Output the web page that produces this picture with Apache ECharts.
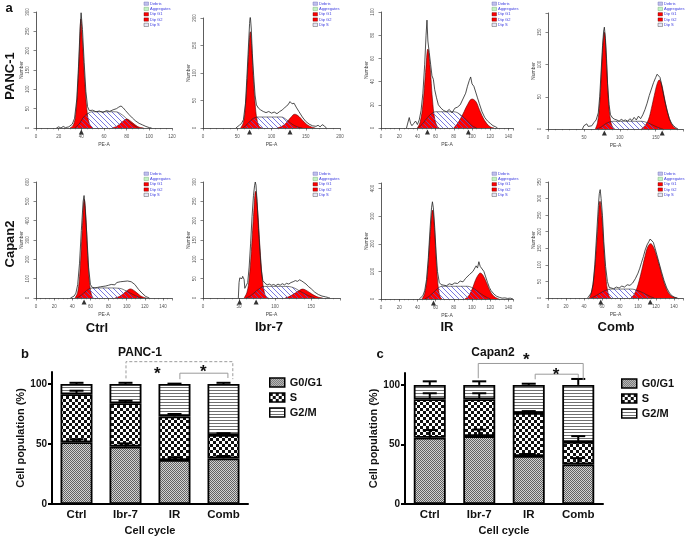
<!DOCTYPE html>
<html><head><meta charset="utf-8">
<script src="https://cdn.jsdelivr.net/npm/echarts@6/dist/echarts.min.js"></script>
<style>html,body{margin:0;padding:0;background:#fff}#c{width:685px;height:537px}</style>
</head><body><div id="c"></div>
<script>
// ================= DATA =================
// Flow-cytometry histograms: [PE-A, Number]
// PANC-1 Ctrl
const p1G1 = [[30,0],[33,8],[35,35],[37,115],[38.5,210],[39.6,282],[41,225],[43,120],[45,45],[47,12],[50,0]];
const p1S  = [[34,0],[38,10],[42,28],[46,38],[50,42],[60,42],[70,42],[75,36],[80,24],[85,10],[90,0]];
const p1G2 = [[67,0],[71,4],[75,13],[78,20],[80,23],[82,21],[85,14],[88,7],[91,2],[95,0]];
const p1Total = [[18,0],[20,3],[22,0],[24,4],[26,1],[29,3],[32,10],[34,25],[36,75],[37.5,160],[38.8,250],[39.8,298],[41,255],[42.5,170],[44,95],[45.5,55],[47,45],[50,46],[53,42],[56,44],[59,40],[62,45],[65,43],[68,47],[71,50],[73,54],[75,57],[77,52],[79,45],[82,35],[85,26],[88,18],[91,12],[94,8],[97,4],[100,1],[102,0]];
const p1Tri = [40];
// PANC-1 Ibr-7
const p2G1 = [[55,0],[59,10],[62,40],[65,100],[67.5,155],[69,175],[71,150],[73,100],[76,45],[79,14],[82,3],[86,0]];
const p2S  = [[58,0],[64,6],[70,14],[76,19],[82,20],[100,20],[114,20],[122,15],[130,7],[138,2],[145,0]];
const p2G2 = [[108,0],[115,3],[122,10],[128,19],[134,25],[140,21],[146,13],[152,6],[158,2],[164,0]];
const p2Total = [[48,0],[50,3],[53,5],[56,8],[59,15],[62,45],[64,90],[66,140],[68,190],[69,205],[70.5,180],[72,135],[74,95],[76,60],[78,42],[81,36],[84,33],[88,30],[92,28],[96,30],[100,27],[104,29],[108,26],[112,30],[116,33],[120,38],[124,42],[127,48],[130,44],[133,45],[136,38],[140,30],[145,20],[150,12],[155,7],[160,4],[165,3],[168,5],[171,2],[174,6],[177,4],[180,0]];
const p2Tri = [68,127];
// PANC-1 IR
const p3G1 = [[40,0],[43,5],[46,20],[49,48],[51.5,68],[54,52],[56.5,25],[59,8],[62,1],[64,0]];
const p3S  = [[40,0],[45,3],[50,8],[55,12],[60,14],[70,14],[80,14],[88,11],[95,6],[100,2],[105,0]];
const p3G2 = [[80,0],[85,5],[90,12],[95,20],[100,25],[104,23],[108,16],[112,9],[116,4],[120,1],[124,0]];
const p3Total = [[28,0],[30,6],[31,9],[32.5,4],[34,2],[36,4],[38,6],[40,3],[42,7],[44,15],[46,30],[48,55],[49.5,80],[50.5,93],[51.5,75],[53,65],[54.5,55],[56,45],[57.5,42],[59,33],[61,26],[63,20],[66,17],[69,15],[72,14],[75,16],[78,13],[81,17],[84,18],[87,20],[90,25],[93,30],[95,36],[97,41],[98.5,44],[100,38],[102,36],[104,31],[106,26],[108,21],[111,14],[114,9],[117,6],[120,4],[123,2],[126,1],[128,0]];
const p3Tri = [51,96];
// PANC-1 Comb
const p4G1 = [[66,0],[69,10],[72,40],[75,100],[77,138],[78.5,150],[80,135],[82,90],[84.5,40],[87,14],[90,3],[93,0]];
const p4S  = [[68,0],[74,3],[80,8],[86,11],[92,12],[110,12],[130,12],[138,10],[146,6],[154,2],[160,0]];
const p4G2 = [[130,0],[135,5],[140,15],[144,32],[148,52],[152,70],[155,76],[158,70],[161,55],[164,38],[168,20],[172,8],[176,2],[180,0]];
const p4Total = [[48,0],[50,5],[52,3],[54,8],[56,4],[58,2],[61,5],[64,10],[67,14],[70,25],[72,50],[74,90],[76,130],[77.5,152],[78.5,158],[80,140],[81.5,110],[83,70],[85,38],[87,22],[90,17],[93,15],[96,14],[99,12],[102,15],[105,13],[108,14],[111,12],[114,16],[117,13],[120,18],[123,14],[126,20],[129,16],[132,22],[135,30],[138,40],[141,52],[144,62],[147,72],[150,80],[152,85],[154,86],[156,80],[158,70],[160,58],[163,42],[166,28],[169,16],[172,9],[175,5],[178,2],[181,0]];
const p4Tri = [78.5,159];
// Capan2 Ctrl
const p5G1 = [[43,0],[46,30],[48.5,140],[51,350],[53.3,510],[55,420],[57,220],[59,80],[61,20],[63,0]];
const p5S  = [[45,0],[50,15],[55,35],[60,50],[65,52],[80,52],[92,50],[100,35],[107,18],[113,5],[117,0]];
const p5G2 = [[87,0],[92,8],[97,25],[101,40],[104,47],[107,42],[111,28],[115,12],[119,3],[122,0]];
const p5Total = [[38,0],[40,5],[42,10],[44,25],[46,70],[48,180],[50,350],[52,500],[53,530],[54,480],[56,330],[58,160],[60,70],[62,55],[65,52],[68,55],[71,58],[74,60],[77,62],[80,66],[83,70],[85,75],[87,68],[89,80],[91,75],[93,84],[95,78],[97,86],[99,82],[101,88],[103,80],[105,84],[107,78],[109,70],[111,60],[113,45],[115,35],[117,25],[119,15],[121,8],[123,3],[125,0]];
const p5Tri = [53];
// Capan2 Ibr-7
const p6G1 = [[57,0],[61,15],[64,50],[67,120],[70,210],[73,276],[76,220],[79,130],[82,55],[85,15],[88,2],[91,0]];
const p6S  = [[60,0],[66,6],[72,15],[78,24],[85,30],[100,30],[115,30],[125,27],[135,17],[145,7],[155,0]];
const p6G2 = [[114,0],[121,5],[128,13],[134,20],[138,23],[142,21],[148,14],[154,7],[160,2],[166,0]];
const p6Total = [[49,0],[50,40],[51,52],[52,48],[53,55],[54,50],[55,56],[56,52],[57,48],[58,25],[60,20],[62,40],[64,80],[66,140],[68,210],[70,265],[71.5,290],[72.5,300],[73.5,292],[75,250],[77,180],[79,120],[81,70],[83,45],[86,38],[89,34],[92,36],[95,33],[98,35],[101,32],[104,36],[107,33],[110,37],[113,34],[116,38],[119,36],[122,40],[125,42],[128,45],[131,43],[134,47],[137,44],[140,40],[143,36],[146,30],[150,24],[155,15],[160,9],[165,5],[170,3],[174,1],[176,0]];
const p6Tri = [50.7,73.7];
// Capan2 IR
const p7G1 = [[45,0],[48,20],[51,90],[54,230],[56.7,322],[59,240],[61,120],[63,40],[65,8],[67,0]];
const p7S  = [[48,0],[53,10],[58,25],[63,40],[67,46],[80,46],[95,46],[103,35],[110,18],[116,6],[120,0]];
const p7G2 = [[92,0],[96,10],[100,35],[104,70],[107,88],[109,94],[112,86],[116,58],[120,28],[124,10],[128,2],[130,0]];
const p7Total = [[42,0],[44,5],[46,12],[48,30],[50,70],[52,150],[54,260],[55.5,330],[56.5,352],[57.5,330],[59,260],[60.5,170],[62,100],[64,60],[66,52],[69,50],[72,48],[75,55],[78,52],[81,58],[84,56],[87,65],[90,62],[93,75],[95,70],[97,88],[99,85],[101,100],[103,105],[104.5,120],[106,112],[107.5,135],[109,118],[111,120],[113,100],[115,80],[117,60],[119,42],[121,30],[124,18],[127,10],[130,6],[133,3],[136,4],[139,2],[142,3],[145,0]];
const p7Tri = [57.7];
// Capan2 Comb
const p8G1 = [[46,0],[49,25],[52,90],[55,200],[57.8,292],[60,240],[62,150],[64,75],[66,25],[68,5],[70,0]];
const p8S  = [[48,0],[54,8],[60,18],[66,25],[70,27],[80,27],[92,27],[100,22],[108,12],[114,4],[118,0]];
const p8G2 = [[92,0],[96,12],[100,40],[104,82],[108,128],[111,155],[114,164],[117,155],[120,132],[124,95],[128,55],[132,25],[136,8],[140,2],[143,0]];
const p8Total = [[44,0],[46,5],[48,15],[50,40],[52,100],[54,190],[56,280],[57,315],[58,327],[59,300],[60.5,250],[62,170],[64,95],[66,50],[68,32],[70,30],[73,28],[76,33],[79,30],[82,36],[85,33],[88,40],[91,38],[94,45],[97,58],[100,75],[102,90],[104,108],[106,125],[108,145],[110,160],[112,170],[113.5,178],[115,172],[117,168],[119,150],[121,130],[123,110],[126,80],[129,52],[132,30],[135,15],[138,6],[141,2],[144,0]];
const p8Tri = [58.6,113.6];

// histogram axis ranges / ticks
const histXMax  = [120,200,145,188,150,190,145,150];
const histXStep = [20,50,20,50,20,50,20,20];
const histYMax  = [300,200,100,180,600,300,420,350];
const histYStep = [50,50,20,50,100,50,100,50];
const histLegendNames = ['Debris','Aggregates','Dip G1','Dip G2','Dip S'];

// Stacked bar charts (cell population %)
const categories = ['Ctrl','Ibr-7','IR','Comb'];
const phaseNames = ['G0/G1','S','G2/M'];
const panc1G1 = [51.5, 47.8, 36.7, 38.0];
const panc1S  = [39.9, 36.2, 36.3, 19.5];
const panc1G2 = [8.6, 16.0, 27.0, 42.5];
const panc1G1Err = [2.5, 2.7, 2.3, 2.0];
const panc1SErr  = [3.0, 2.0, 2.0, 1.5];
const panc1G2Err = [1.0, 1.0, 0.3, 1.0];
const capan2G1 = [55.6, 57.0, 40.3, 33.3];
const capan2S  = [32.4, 31.0, 36.1, 18.7];
const capan2G2 = [12.0, 12.0, 23.6, 48.0];
const capan2G1Err = [6.5, 5.5, 1.7, 5.2];
const capan2SErr  = [5.0, 5.0, 1.6, 5.0];
const capan2G2Err = [3.0, 3.0, 1.0, 5.0];
const barYTicks = [0, 50, 100];
// significance brackets: [fromCat, toCat, topY, leftEndY, rightEndY] (category positions)
const panc1Brackets = [[1.01, 3.19, 118.6, 104.7, 104], [2.11, 3.09, 109, 104, 105]];
const panc1Stars = [[1.65, 111.7], [2.59, 113]];
const capan2Brackets = [[0.98, 3.10, 118, 105.6, 104], [2.13, 3.0, 109, 104.7, 105.6]];
const capan2Stars = [[1.95, 123.6], [2.55, 111]];

// ================= LAYOUT / STYLE =================
const FONT = 'Liberation Sans, Arial, Helvetica, sans-serif';
const histGrids = [
  [36,12,136,116],[203,18,137,110],[381,12,132,116],[548,13,135,116],
  [36,182,136,116],[203,182,137,116],[381,183,132,116],[548,182,135,116]
];
const histLegendPos = [[144,2],[313,2],[492,2],[658,2],[144,172],[313,172],[492,172],[658,172]];

function mkCanvas(w,h,draw){const c=document.createElement('canvas');c.width=w;c.height=h;const g=c.getContext('2d');draw(g);return c;}
const hatch = mkCanvas(5,5,g=>{g.strokeStyle='#5656d6';g.lineWidth=0.8;g.beginPath();
  g.moveTo(-1,-1);g.lineTo(6,6);g.moveTo(-1,4);g.lineTo(1,6);g.moveTo(4,-1);g.lineTo(6,1);g.stroke();});
const patG1 = mkCanvas(2,2,g=>{g.fillStyle='#d2d2d2';g.fillRect(0,0,2,2);g.fillStyle='#626262';g.fillRect(0,0,1,1);g.fillRect(1,1,1,1);});
const patS = mkCanvas(6,6,g=>{g.fillStyle='#fff';g.fillRect(0,0,6,6);g.fillStyle='#111';g.fillRect(0,0,3,3);g.fillRect(3,3,3,3);});
const patG2 = mkCanvas(3,3,g=>{g.fillStyle='#fff';g.fillRect(0,0,3,3);g.fillStyle='#707070';g.fillRect(0,0,3,1);});
const pat = c => ({image:c, repeat:'repeat'});

const hist = [
  [p1G1,p1S,p1G2,p1Total,p1Tri],[p2G1,p2S,p2G2,p2Total,p2Tri],[p3G1,p3S,p3G2,p3Total,p3Tri],[p4G1,p4S,p4G2,p4Total,p4Tri],
  [p5G1,p5S,p5G2,p5Total,p5Tri],[p6G1,p6S,p6G2,p6Total,p6Tri],[p7G1,p7S,p7G2,p7Total,p7Tri],[p8G1,p8S,p8G2,p8Total,p8Tri]
];

const grid=[], xAxis=[], yAxis=[], series=[], graphic=[];
function multiples(max, step){const a=[];for(let v=0;v<=max+1e-9;v+=step)a.push(v);return a;}

hist.forEach((h,i)=>{
  const [l,t,w,hh]=histGrids[i];
  grid.push({left:l, top:t, width:w, height:hh});
  xAxis.push({type:'value', gridIndex:i, min:0, max:histXMax[i], interval:histXStep[i],
    axisLine:{show:true, onZero:false, lineStyle:{color:'#333', width:0.8}},
    axisTick:{show:true, length:2.5, lineStyle:{color:'#333', width:0.6}},
    minorTick:{show:true, splitNumber: histXStep[i]===20?4:5, length:1.3, lineStyle:{color:'#444', width:0.5}},
    axisLabel:{fontSize:4.5, color:'#555', margin:6, fontFamily:FONT, customValues:multiples(histXMax[i],histXStep[i])},
    splitLine:{show:false},
    name:'PE-A', nameLocation:'middle', nameGap:14, nameTextStyle:{fontSize:5, color:'#444', fontFamily:FONT}});
  yAxis.push({type:'value', gridIndex:i, min:0, max:histYMax[i], interval:histYStep[i],
    axisLine:{show:true, lineStyle:{color:'#333', width:0.8}},
    axisTick:{show:true, length:2.5, lineStyle:{color:'#333', width:0.6}},
    axisLabel:{fontSize:4.5, color:'#555', margin:6, rotate:90, fontFamily:FONT, customValues:multiples(histYMax[i],histYStep[i])},
    splitLine:{show:false},
    name:'Number', nameLocation:'middle', nameGap:12, nameRotate:90, nameTextStyle:{fontSize:5, color:'#444', fontFamily:FONT}});
  const base = {xAxisIndex:i, yAxisIndex:i, type:'line', symbol:'none', silent:true};
  series.push(Object.assign({}, base, {data:h[0], smooth:0.4, z:2, lineStyle:{color:'#5a0000', width:0.6}, areaStyle:{color:'#ff0000', opacity:1}}));
  series.push(Object.assign({}, base, {data:h[2], smooth:0.4, z:2, lineStyle:{color:'#5a0000', width:0.6}, areaStyle:{color:'#ff0000', opacity:1}}));
  series.push(Object.assign({}, base, {data:h[1], smooth:0.4, z:3, lineStyle:{color:'#222', width:0.6}, areaStyle:{color:pat(hatch), opacity:1}}));
  series.push(Object.assign({}, base, {data:h[3], smooth:false, z:4, lineStyle:{color:'#222', width:0.8}}));
  series.push({type:'scatter', xAxisIndex:i, yAxisIndex:i, data:h[4].map(x=>[x,0]), symbol:'triangle', symbolSize:[5,5],
    symbolOffset:[0,4], itemStyle:{color:'#000'}, clip:false, z:6, silent:true});
  // tiny legend
  const [lx,ly]=histLegendPos[i];
  const fills=['#c0c0ec','#c4f2c4','#ff0000','#ff0000','#e6e6f6'];
  const strokes=['#6060b0','#60a060','#500','#500','#333'];
  histLegendNames.forEach((n,k)=>{
    const yy=ly+k*5.3;
    graphic.push({type:'rect', shape:{x:lx,y:yy,width:4.5,height:3.3}, style:{fill:fills[k], stroke:strokes[k], lineWidth:0.4}, silent:true});
    graphic.push({type:'text', x:lx+6, y:yy+1.7, style:{text:n, fontSize:4, fill:'#3a3ae0', verticalAlign:'middle', fontFamily:FONT}, silent:true});
  });
});

// ---- Bar charts ----
const barGrids = [{left:52, top:372, width:196, height:132}, {left:405, top:373, width:198, height:132}];
const barSets = [
  {vals:[panc1G1,panc1S,panc1G2], errs:[panc1G1Err,panc1SErr,panc1G2Err], br:panc1Brackets, st:panc1Stars, dash:[[3,2],null]},
  {vals:[capan2G1,capan2S,capan2G2], errs:[capan2G1Err,capan2SErr,capan2G2Err], br:capan2Brackets, st:capan2Stars, dash:[null,null]}
];
const pats=[pat(patG1),pat(patS),pat(patG2)];
barSets.forEach((bs,j)=>{
  const gi=8+j;
  grid.push(barGrids[j]);
  xAxis.push({type:'category', gridIndex:gi, data:categories,
    axisLine:{lineStyle:{color:'#000', width:2}}, axisTick:{show:false},
    axisLabel:{fontSize:11.5, fontWeight:'bold', color:'#111', margin:5, fontFamily:FONT},
    name:'Cell cycle', nameLocation:'middle', nameGap:21, nameTextStyle:{fontSize:11, fontWeight:'bold', color:'#111', fontFamily:FONT}});
  yAxis.push({type:'value', gridIndex:gi, min:0, max:110, interval:50,
    axisLine:{show:true, lineStyle:{color:'#000', width:2}},
    axisTick:{show:true, length:4, lineStyle:{color:'#000', width:2}, customValues:barYTicks},
    axisLabel:{fontSize:10, fontWeight:'bold', color:'#111', margin:5, fontFamily:FONT, customValues:barYTicks},
    splitLine:{show:false},
    name:'Cell population (%)', nameLocation:'middle', nameGap:26, nameRotate:90,
    nameTextStyle:{fontSize:11, fontWeight:'bold', color:'#111', fontFamily:FONT}});
  bs.vals.forEach((v,k)=>{
    series.push({type:'bar', name:phaseNames[k], xAxisIndex:gi, yAxisIndex:gi, stack:'st'+j, data:v, barWidth:32,
      itemStyle:{color:pats[k], borderColor:'#000', borderWidth:1.8}, z:2, silent:true});
  });
  // error bars (upper)
  const errData=[];
  let cum=[0,0,0,0];
  bs.vals.forEach((v,k)=>{ v.forEach((x,c)=>{cum[c]+=x; errData.push([c, cum[c], bs.errs[k][c]]);}); });
  series.push({type:'custom', xAxisIndex:gi, yAxisIndex:gi, data:errData, z:5, silent:true, encode:{x:0,y:1},
    renderItem:(p,api)=>{const c=api.value(0),b=api.value(1),e=api.value(2);
      const p0=api.coord([c,b]), p1=api.coord([c,b+e]), w=7;
      return {type:'group', children:[
        {type:'line', shape:{x1:p0[0],y1:p0[1],x2:p1[0],y2:p1[1]}, style:{stroke:'#000', lineWidth:2}},
        {type:'line', shape:{x1:p1[0]-w,y1:p1[1],x2:p1[0]+w,y2:p1[1]}, style:{stroke:'#000', lineWidth:2}}]};}});
  // significance brackets
  series.push({type:'custom', xAxisIndex:gi, yAxisIndex:gi, data:bs.br.map((b,k)=>[0,b[0],b[1],b[2],b[3],b[4],k]), z:6, silent:true, encode:{x:0,y:3},
    renderItem:(p,api)=>{const o=api.coord([0,0]); const band=api.size([1,0])[0];
      const X=v=>o[0]+v*band, Y=v=>api.coord([0,v])[1];
      const x1=X(api.value(1)), x2=X(api.value(2)), yt=Y(api.value(3)), yl=Y(api.value(4)), yr=Y(api.value(5));
      const dash=bs.dash[api.value(6)];
      return {type:'polyline', shape:{points:[[x1,yl],[x1,yt],[x2,yt],[x2,yr]]}, style:{stroke:'#9a9a9a', lineWidth:1, fill:null, lineDash:dash||null}};}});
  series.push({type:'custom', xAxisIndex:gi, yAxisIndex:gi, data:bs.st.map(s=>[0,s[0],s[1]]), z:6, silent:true, encode:{x:0,y:2},
    renderItem:(p,api)=>{const o=api.coord([0,0]); const band=api.size([1,0])[0];
      const x=o[0]+api.value(1)*band, y=api.coord([0,api.value(2)])[1];
      return {type:'text', x:x, y:y+4, style:{text:'*', fontSize:17, fontWeight:'bold', fill:'#111', align:'center', verticalAlign:'middle', fontFamily:FONT}};}});
});

// ---- Text annotations ----
const T=(text,x,y,size,rot)=>({type:'text', x:x, y:y, rotation:rot||0, silent:true,
  style:{text:text, fontSize:size, fontWeight:'bold', fill:'#111', align:'center', verticalAlign:'middle', fontFamily:FONT}});
graphic.push(T('a',9,8,13));
graphic.push(T('PANC-1',10,76,13,Math.PI/2));
graphic.push(T('Capan2',10,244,13,Math.PI/2));
graphic.push(T('Ctrl',97,328,13));
graphic.push(T('Ibr-7',269,327,13));
graphic.push(T('IR',447,327,13));
graphic.push(T('Comb',616,327,13));
graphic.push(T('b',25,354,13));
graphic.push(T('PANC-1',140,353,12));
graphic.push(T('c',380,354,13));
graphic.push(T('Capan2',493,353,12));

const legendCommon = {orient:'vertical', data:phaseNames, icon:'rect', itemWidth:15, itemHeight:9, itemGap:4, selectedMode:false,
  textStyle:{fontSize:11, fontWeight:'bold', color:'#111', fontFamily:FONT}, itemStyle:{borderColor:'#000', borderWidth:1.5}};

const chart = echarts.init(document.getElementById('c'), null, {renderer:'canvas'});
chart.setOption({
  animation:false, backgroundColor:'#fff',
  grid, xAxis, yAxis, series, graphic,
  legend:[Object.assign({left:264, top:372}, legendCommon), Object.assign({left:616, top:373}, legendCommon)]
});
</script></body></html>
